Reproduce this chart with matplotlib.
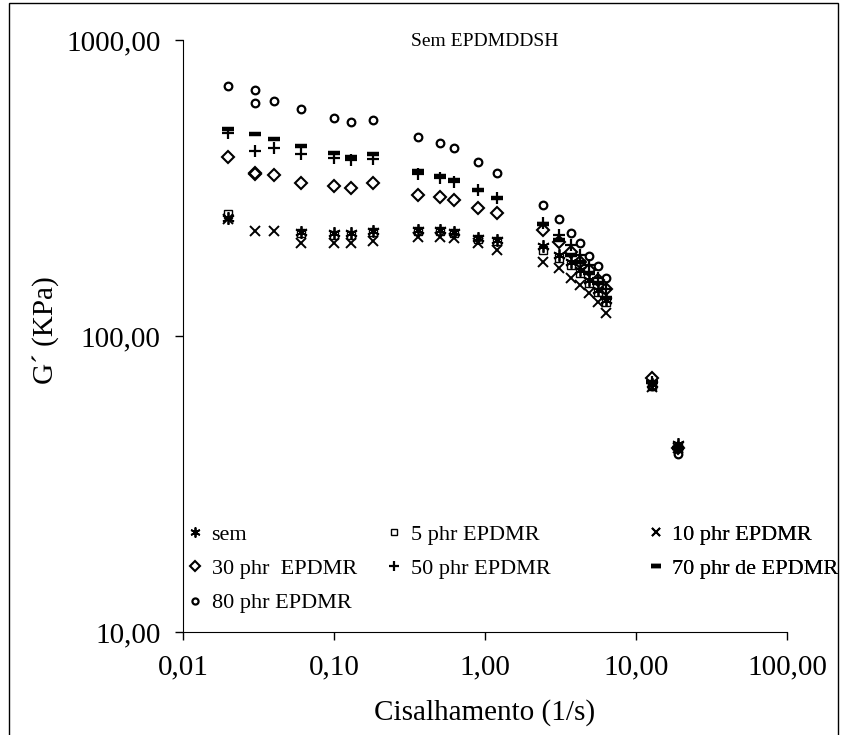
import matplotlib
matplotlib.use("Agg")
import matplotlib.pyplot as plt
from matplotlib.lines import Line2D
from matplotlib.patches import Rectangle

plt.rcParams["font.family"] = ["Liberation Serif", "DejaVu Serif"]

# shear rate (1/s) and G' (KPa)
x_sem = [0.02, 0.06, 0.10, 0.13, 0.18, 0.36, 0.50, 0.62, 0.90, 1.20,
         2.42, 3.09, 3.72, 4.26, 4.88, 5.60, 6.32, 12.8, 19.0]
g_sem = [250, 224, 222, 222, 226, 228, 228, 224, 214, 211,
         202, 188, 178, 167, 155, 143, 132, 69, 43]

x_5 = x_sem
g_5 = [258, 222, 220, 220, 224, 226, 226, 222, 212, 209,
       195, 183, 174, 163, 151, 141, 130, 68, 42]

x_10 = [0.02, 0.03, 0.04, 0.06, 0.10, 0.13, 0.18, 0.36, 0.50, 0.62, 0.90, 1.20,
        2.42, 3.09, 3.72, 4.26, 4.88, 5.60, 6.32, 12.8, 19.0]
g_10 = [248, 226, 226, 206, 206, 206, 209, 216, 216, 214, 206, 195,
        178, 170, 157, 149, 140, 130, 120, 67, 42]

x_30 = [0.02, 0.03, 0.03, 0.04, 0.06, 0.10, 0.13, 0.18, 0.36, 0.50, 0.62, 0.90, 1.20,
        2.42, 3.09, 3.72, 4.26, 4.88, 5.60, 6.32, 12.8, 19.0]
g_30 = [402, 355, 352, 350, 329, 321, 316, 329, 299, 295, 288, 270, 260,
        228, 208, 192, 178, 167, 155, 144, 72, 42]

x_50 = x_10
g_50 = [485, 422, 431, 412, 399, 393, 396, 352, 342, 332, 311, 293,
        241, 219, 203, 188, 174, 157, 144, 70, 42]

x_70 = x_10
g_70 = [500, 481, 463, 438, 415, 402, 412, 361, 347, 337, 311, 293,
        239, 211, 188, 178, 163, 151, 134, 70, 42]

x_80 = x_30
g_80 = [700, 678, 613, 622, 585, 545, 530, 537, 470, 449, 431, 387, 356,
        277, 248, 223, 206, 187, 172, 157, 68, 40]

labels = ["sem", "5 phr EPDMR", "10 phr EPDMR", "30 phr  EPDMR",
          "50 phr EPDMR", "70 phr de EPDMR", "80 phr EPDMR"]

x_ticks = [0.01, 0.1, 1, 10, 100]
x_tick_labels = ["0,01", "0,10", "1,00", "10,00", "100,00"]
y_ticks = [10, 100, 1000]
y_tick_labels = ["10,00", "100,00", "1000,00"]

fig = plt.figure(figsize=(8.42, 7.35), dpi=100)
fig.patches.append(Rectangle((9 / 842, -0.05), 829 / 842, 1.05 - 3 / 735,
                             transform=fig.transFigure, fill=False,
                             edgecolor="black", linewidth=1.0))

ax = fig.add_axes([183 / 842, 1 - 632 / 735, 604 / 842, 592 / 735])

styles = [
    dict(marker=(6, 2, 0), ms=9, mew=1.3),
    dict(marker="s", ms=6, mew=1.0, mfc="none"),
    dict(marker="x", ms=7.5, mew=1.4),
    dict(marker="D", ms=6, mew=1.5, mfc="none"),
    dict(marker="+", ms=8.5, mew=1.6),
    dict(marker="_", ms=9, mew=3.2),
    dict(marker="o", ms=5.5, mew=1.6, mfc="none"),
]

series = [(x_sem, g_sem), (x_5, g_5), (x_10, g_10), (x_30, g_30),
          (x_50, g_50), (x_70, g_70), (x_80, g_80)]

handles = []
for (xs, ys), st, lab in zip(series, styles, labels):
    ax.plot(xs, ys, linestyle="none", color="black", mec="black", **st)
    handles.append(Line2D([], [], linestyle="none", color="black",
                          mec="black", label=lab, **st))

ax.set_xscale("log")
ax.set_yscale("log")
ax.set_xlim(0.01, 100)
ax.set_ylim(10, 1000)
ax.set_xticks(x_ticks)
ax.set_xticklabels(x_tick_labels)
ax.set_yticks(y_ticks)
ax.set_yticklabels(y_tick_labels)
ax.minorticks_off()
ax.tick_params(direction="out", length=6, width=1, labelsize=21, pad=10)
ax.spines["top"].set_visible(False)
ax.spines["right"].set_visible(False)

ax.set_xlabel("Cisalhamento (1/s)", fontsize=21)
ax.xaxis.set_label_coords(0.5, -0.113)
ax.set_ylabel("G\u00b4 (KPa)", fontsize=21)
ax.yaxis.set_label_coords(-0.205, 0.51)

ax.text(0.5, 0.997, "Sem EPDMDDSH", transform=ax.transAxes,
        ha="center", va="center", fontsize=14)

# legend laid out row by row in three columns
columns = [([0, 3, 6], 0.005), ([1, 4], 0.335), ([2, 5], 0.768)]
for idx, xpos in columns:
    leg = ax.legend([handles[i] for i in idx], [labels[i] for i in idx],
                    loc="upper left", bbox_to_anchor=(xpos, 0.182),
                    frameon=False, fontsize=16, handlelength=0.8,
                    handletextpad=0.35, labelspacing=0.62, borderpad=0,
                    borderaxespad=0, markerscale=0.8)
    ax.add_artist(leg)

fig.savefig("out.png", dpi=100)
